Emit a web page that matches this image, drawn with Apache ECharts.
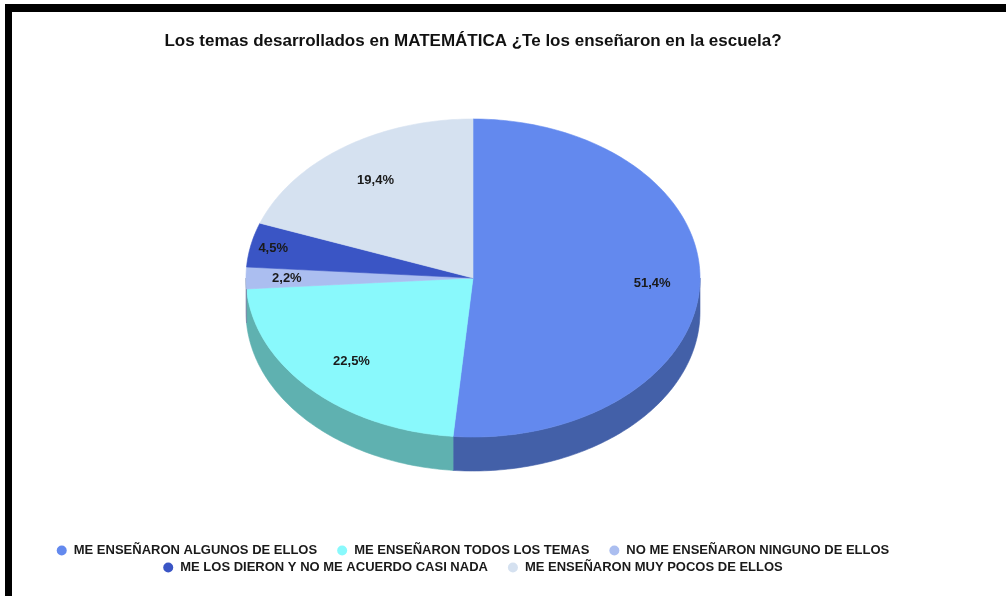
<!DOCTYPE html>
<html>
<head>
<meta charset="utf-8">
<script src="https://cdn.jsdelivr.net/npm/echarts@6/dist/echarts.min.js"></script>
<style>
  body { margin: 0; background: #fff; }
  #frame {
    position: absolute; left: 5px; top: 4px; width: 1001px; height: 592px;
    border-top: 8px solid #000; border-left: 7px solid #000;
    box-sizing: border-box; pointer-events: none; z-index: 2;
  }
  #main { position: absolute; left: 0; top: 0; width: 946px; height: 596px; }
</style>
</head>
<body>
<div id="frame"></div>
<div id="main"></div>
<script>
// datos del gráfico
const categories = [
  'ME ENSEÑARON ALGUNOS DE ELLOS',
  'ME ENSEÑARON TODOS LOS TEMAS',
  'NO ME ENSEÑARON NINGUNO DE ELLOS',
  'ME LOS DIERON Y NO ME ACUERDO CASI NADA',
  'ME ENSEÑARON MUY POCOS DE ELLOS'
];
const values = [51.4, 22.5, 2.2, 4.5, 19.4];
const topColors = ['#6389EE', '#89F9FC', '#ABBEF0', '#3A55C5', '#D5E1F0'];
const sideColors = ['#4360A8', '#5FB1B0', '#7A88AA', '#2A3C8C', '#97A0AA'];

// geometría del pastel "3D"
const cx = 473, cy = 278, rx = 227, ry = 159, depth = 34;
const total = values.reduce((a, b) => a + b, 0);

function pt(deg, dy) {
  const t = deg * Math.PI / 180;
  return [cx + rx * Math.sin(t), cy - ry * Math.cos(t) + dy];
}

function arc(a0, a1, dy) {
  const pts = [];
  const n = Math.max(2, Math.ceil(Math.abs(a1 - a0)));
  for (let k = 0; k <= n; k++) pts.push(pt(a0 + (a1 - a0) * k / n, dy));
  return pts;
}

function renderSlice(i) {
  return function (params, api) {
    const before = values.slice(0, i).reduce((a, b) => a + b, 0);
    const start = before / total * 360;
    const end = (before + api.value(0)) / total * 360;
    const children = [];
    // cara lateral (solo la mitad de delante)
    const s = Math.max(start, 90), e = Math.min(end, 270);
    if (s < e) {
      children.push({
        type: 'polygon',
        shape: { points: arc(s, e, 0).concat(arc(e, s, depth)) },
        style: { fill: sideColors[i], stroke: sideColors[i], lineWidth: 0.6 }
      });
    }
    // cara superior
    children.push({
      type: 'polygon',
      shape: { points: [[cx, cy]].concat(arc(start, end, 0)) },
      style: { fill: topColors[i], stroke: topColors[i], lineWidth: 0.6 }
    });
    // etiqueta
    const mid = (start + end) / 2;
    const v = api.value(0);
    const f = v < 3 ? 0.82 : (v < 5 ? 0.9 : (v > 50 ? 0.79 : 0.75));
    const t = mid * Math.PI / 180;
    children.push({
      type: 'text',
      style: {
        text: v.toFixed(1).replace('.', ',') + '%',
        x: cx + rx * f * Math.sin(t),
        y: cy - ry * f * Math.cos(t),
        align: 'center', verticalAlign: 'middle',
        fill: '#1a1a1a', font: 'bold 13px "Liberation Sans", Arial'
      }
    });
    return { type: 'group', children: children };
  };
}

const chart = echarts.init(document.getElementById('main'));

const legendCommon = {
  icon: 'circle',
  itemWidth: 14,
  itemHeight: 10,
  itemGap: 20,
  left: 'center',
  selectedMode: false,
  textStyle: { color: '#1a1a1a', fontSize: 13, fontWeight: 'bold', fontFamily: '"Liberation Sans", Arial' }
};

const option = {
  animation: false,
  title: {
    text: 'Los temas desarrollados en MATEMÁTICA ¿Te los enseñaron en la escuela?',
    left: 'center',
    top: 28,
    textStyle: { color: '#111', fontSize: 17, fontWeight: 'bold', fontFamily: '"Liberation Sans", Arial' }
  },
  legend: [
    Object.assign({}, legendCommon, { top: 539, data: categories.slice(0, 3) }),
    Object.assign({}, legendCommon, { top: 556, data: categories.slice(3) })
  ],
  series: categories.map((name, i) => ({
    type: 'custom',
    name: name,
    coordinateSystem: 'none',
    itemStyle: { color: topColors[i] },
    renderItem: renderSlice(i),
    data: [values[i]]
  }))
};

chart.setOption(option);
</script>
</body>
</html>
